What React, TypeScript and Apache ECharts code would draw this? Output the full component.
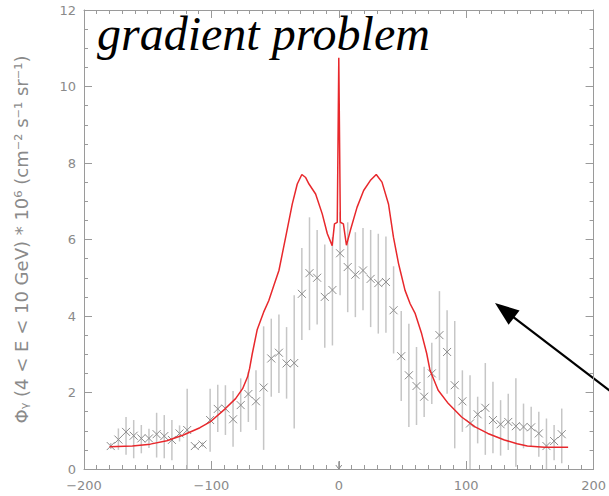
import React, { useEffect, useRef } from "react";
import * as echarts from "echarts";

// Data: longitude bins (deg), measured flux, error-bar bounds
const longitudes = [-179, -173, -167, -161, -155, -149, -143, -137, -131, -125, -119, -113, -107, -101, -95, -89, -83, -77, -71, -65, -59, -53, -47, -41, -35, -29, -23, -17, -11, -5, 1, 7, 13, 19, 25, 31, 37, 43, 49, 55, 61, 67, 73, 79, 85, 91, 97, 103, 109, 115, 121, 127, 133, 139, 145, 151, 157, 163, 169, 175];
const fluxValues = [0.60, 0.77, 0.97, 0.87, 0.80, 0.80, 0.91, 0.86, 0.76, 0.93, 1.02, 0.60, 0.64, 1.28, 1.57, 1.58, 1.30, 1.67, 1.96, 1.77, 2.13, 2.89, 3.04, 2.76, 2.77, 4.58, 5.12, 5.00, 4.50, 4.68, 5.64, 5.28, 5.08, 5.19, 4.97, 4.86, 4.89, 4.15, 2.95, 2.45, 2.17, 1.89, 2.50, 3.50, 3.06, 2.19, 1.77, 1.19, 1.43, 1.60, 1.28, 1.17, 1.23, 1.12, 1.10, 1.09, 0.93, 0.60, 0.73, 0.91];
const errLow = [0.52, 0.50, 0.37, 0.28, 0.41, 0.55, 0.30, 0.28, 0.23, 0.72, 0.00, 0.55, 0.58, 0.45, 0.97, 0.89, 0.58, 0.97, 1.23, 1.02, 0.50, 1.89, 1.99, 1.84, 1.06, 3.37, 3.63, 3.78, 3.17, 3.23, 4.54, 4.10, 3.97, 4.15, 3.71, 3.54, 3.56, 3.02, 1.78, 1.10, 1.15, 1.36, 1.70, 2.32, 1.97, 0.54, 0.97, 0.00, 0.67, 0.37, 0.41, 0.35, 0.50, 0.06, 0.54, 0.58, 0.32, 0.00, 0.23, 0.15];
const errHigh = [0.68, 1.06, 1.36, 1.28, 1.15, 1.05, 1.47, 1.41, 1.28, 1.14, 2.10, 0.65, 0.70, 2.10, 2.20, 2.19, 2.04, 2.37, 2.54, 2.58, 3.73, 3.93, 4.04, 3.71, 4.54, 5.78, 6.58, 6.25, 5.87, 6.06, 6.71, 6.45, 6.19, 6.30, 6.25, 6.15, 6.08, 5.30, 4.13, 3.80, 3.19, 2.67, 3.30, 4.65, 4.15, 3.87, 2.58, 2.45, 1.89, 2.77, 2.28, 1.80, 1.97, 2.37, 1.71, 1.63, 1.50, 1.32, 1.15, 1.58];

// Upper-limit marker
const limitLon = [0];
const limitFlux = [0.2];

// Model curve (red)
const modelLon = [-180, -162, -148, -135, -122, -109, -101, -89, -81, -75.5, -71.6, -70, -68, -64, -59, -55, -51, -47, -41.7, -36.5, -32.6, -29, -26, -23.4, -18.2, -13, -9, -5.2, -3.4, -1.2, 0, 1.2, 3.6, 6, 9.1, 14.3, 19.5, 24.7, 29.4, 33.9, 39, 42.9, 46.9, 48.2, 52, 56, 60, 65, 69, 71.6, 78, 86, 96.4, 107, 117, 130, 140, 148, 161.5, 180];
const modelFlux = [0.58, 0.60, 0.65, 0.74, 0.89, 1.08, 1.23, 1.58, 1.84, 2.10, 2.41, 2.63, 3.00, 3.65, 4.10, 4.40, 4.80, 5.19, 6.06, 6.93, 7.45, 7.70, 7.62, 7.45, 7.19, 6.67, 6.15, 5.84, 6.41, 6.45, 10.75, 6.45, 6.41, 5.85, 6.24, 6.84, 7.28, 7.54, 7.70, 7.50, 6.93, 6.06, 5.37, 5.19, 4.67, 4.32, 4.06, 3.54, 3.02, 2.58, 2.06, 1.71, 1.36, 1.10, 0.93, 0.76, 0.66, 0.60, 0.57, 0.57];

const titleText = "gradient problem";
const yAxisTitle = "Φᵧ (4 < E < 10 GeV) * 10⁶ (cm⁻² s⁻¹ sr⁻¹)";

const AXIS = "#9a9a9a";
const LABEL = "#8a8a8a";

function fmt(v: number) {
  return v < 0 ? "\u2212" + Math.abs(v) : String(v);
}

function axisCommon(extra: any) {
  return {
    type: "value",
    axisLine: { show: true, onZero: false, lineStyle: { color: AXIS, width: 1 } },
    axisTick: { show: true, inside: true, length: 8, lineStyle: { color: AXIS } },
    splitLine: { show: false },
    ...extra,
  };
}

export default function App() {
  const ref = useRef<HTMLDivElement>(null);
  useEffect(() => {
    document.body.style.margin = "0";
    const chart = echarts.init(ref.current!, null, { renderer: "svg" });
    const pointData = longitudes.map((x, i) => [x, fluxValues[i], errLow[i], errHigh[i]]);
    const limitData = limitLon.map((x, i) => [x, limitFlux[i]]);
    const modelData = modelLon.map((x, i) => [x, modelFlux[i]]);

    const tip = [495, 303];
    const ux = 0.795, uy = 0.607;
    const hl = 24, hw = 9;
    const bx = tip[0] + hl * ux, by = tip[1] + hl * uy;

    chart.setOption({
      animation: false,
      grid: { left: 84, right: 13, top: 10, bottom: 27, containLabel: false },
      xAxis: [
        axisCommon({
          min: -200, max: 200, interval: 100, position: "bottom",
          minorTick: { show: true, splitNumber: 10, length: 4, lineStyle: { color: AXIS } },
          axisLabel: { color: LABEL, fontFamily: "DejaVu Sans", fontSize: 13, margin: 10, formatter: fmt },
        }),
        axisCommon({
          min: -200, max: 200, interval: 100, position: "top",
          minorTick: { show: true, splitNumber: 10, length: 4, lineStyle: { color: AXIS } },
          axisLabel: { show: false },
        }),
      ],
      yAxis: [
        axisCommon({
          min: 0, max: 12, interval: 2, position: "left",
          minorTick: { show: true, splitNumber: 4, length: 4, lineStyle: { color: AXIS } },
          axisLabel: { color: LABEL, fontFamily: "DejaVu Sans", fontSize: 13, margin: 8, formatter: fmt },
          name: yAxisTitle,
          nameLocation: "middle",
          nameGap: 54,
          nameTextStyle: { color: LABEL, fontFamily: "DejaVu Sans", fontSize: 18 },
        }),
        axisCommon({
          min: 0, max: 12, interval: 2, position: "right",
          minorTick: { show: true, splitNumber: 4, length: 4, lineStyle: { color: AXIS } },
          axisLabel: { show: false },
        }),
      ],
      series: [
        {
          type: "custom",
          name: "data",
          clip: true,
          encode: { x: 0, y: [1, 2, 3] },
          data: pointData,
          renderItem: (params: any, api: any) => {
            const x = api.value(0), y = api.value(1), lo = api.value(2), hi = api.value(3);
            const p = api.coord([x, y]);
            const a = api.coord([x, lo]);
            const b = api.coord([x, hi]);
            const s = 4;
            return {
              type: "group",
              children: [
                { type: "line", shape: { x1: a[0], y1: a[1], x2: b[0], y2: b[1] }, style: { stroke: "#c6c6c6", lineWidth: 1.5 } },
                { type: "line", shape: { x1: p[0] - s, y1: p[1] - s, x2: p[0] + s, y2: p[1] + s }, style: { stroke: "#8c8c8c", lineWidth: 1 } },
                { type: "line", shape: { x1: p[0] - s, y1: p[1] + s, x2: p[0] + s, y2: p[1] - s }, style: { stroke: "#8c8c8c", lineWidth: 1 } },
              ],
            };
          },
        },
        {
          type: "custom",
          name: "limit",
          clip: false,
          encode: { x: 0, y: 1 },
          data: limitData,
          renderItem: (params: any, api: any) => {
            const x = api.value(0), y = api.value(1);
            const p = api.coord([x, y]);
            const z = api.coord([x, 0]);
            return {
              type: "group",
              children: [
                { type: "line", shape: { x1: p[0], y1: p[1], x2: z[0], y2: z[1] }, style: { stroke: "#8c8c8c", lineWidth: 1 } },
                { type: "polyline", shape: { points: [[z[0] - 3, z[1] - 4], [z[0], z[1]], [z[0] + 3, z[1] - 4]] }, style: { stroke: "#8c8c8c", lineWidth: 1, fill: "none" } },
              ],
            };
          },
        },
        {
          type: "line",
          name: "model",
          data: modelData,
          showSymbol: false,
          symbol: "none",
          lineStyle: { color: "#e8282c", width: 1.5 },
          z: 3,
        },
      ],
      graphic: [
        {
          type: "text",
          left: 97,
          top: 9,
          style: {
            text: titleText,
            fill: "#000",
            font: "italic 48px 'Liberation Serif', 'Times New Roman', serif",
          },
        },
        {
          type: "line",
          shape: { x1: 640, y1: tip[1] + (640 - tip[0]) * (uy / ux), x2: bx - 2, y2: by - 2 * (uy / ux) },
          style: { stroke: "#000", lineWidth: 2.2 },
        },
        {
          type: "polygon",
          shape: { points: [[tip[0], tip[1]], [bx - hw * uy, by + hw * ux], [bx + hw * uy, by - hw * ux]] },
          style: { fill: "#000" },
        },
      ],
    });
    return () => chart.dispose();
  }, []);
  return <div ref={ref} style={{ position: "absolute", left: 0, top: 0, width: 609, height: 496 }} />;
}
